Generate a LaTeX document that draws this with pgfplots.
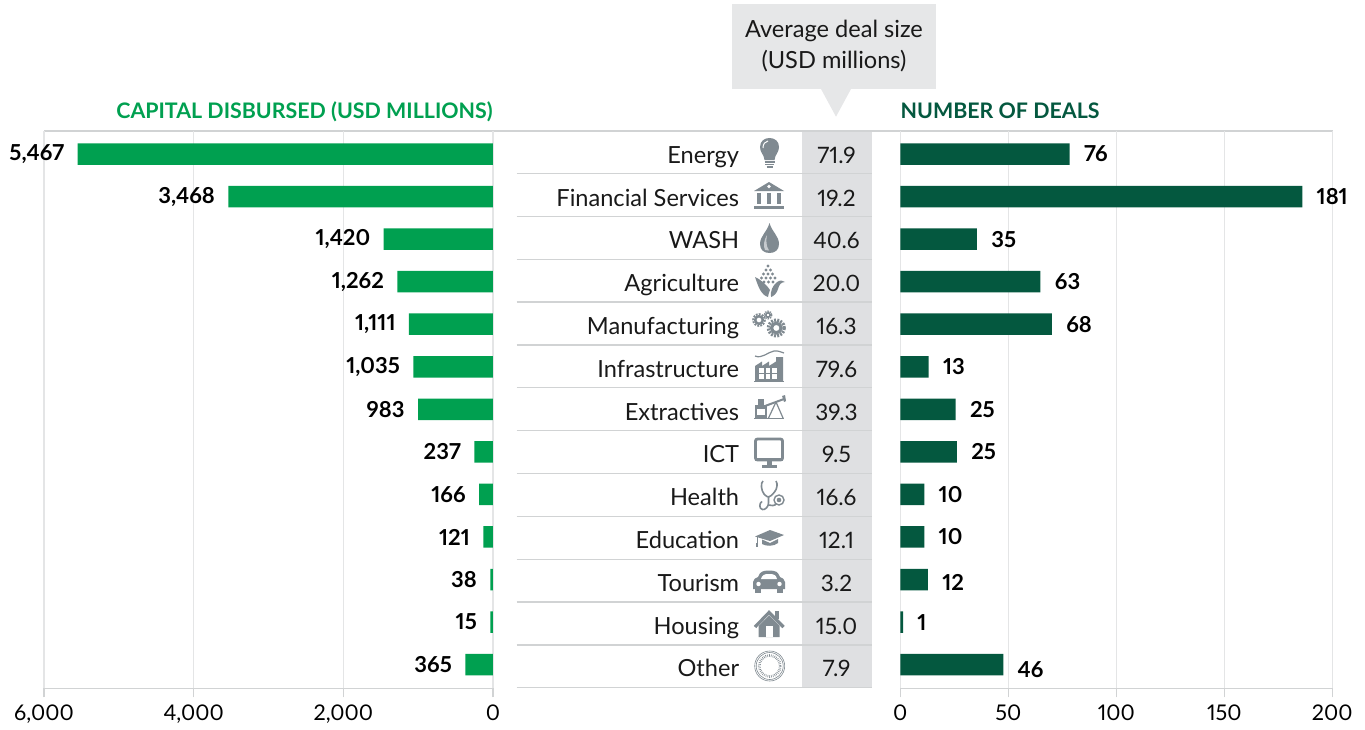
\documentclass[border=0pt]{standalone}
\usepackage{pgfplots}
\usepackage{pgfplotstable}
\pgfplotsset{compat=1.18}
\usepackage{fontspec}
\setmainfont{Lato}[Numbers=Proportional]

\definecolor{lgreen}{HTML}{00A050}
\definecolor{dgreen}{HTML}{04583F}
\definecolor{gridc}{HTML}{E4E5E6}
\definecolor{linec}{HTML}{D1D3D4}
\definecolor{colbg}{HTML}{DFE0E2}
\definecolor{callout}{HTML}{E6E7E8}
\definecolor{icon}{HTML}{808A91}

% 1 px of the reference = 0.5pt here
\newcommand{\fs}[1]{\fontsize{#1}{#1}\selectfont}

% bar lengths are as drawn in the reference (slightly past the printed values)
\pgfplotstableread{
y len lab
0 5551 {5,467}
1 3537 {3,468}
2 1462 {1,420}
3 1279 {1,262}
4 1123 {1,111}
5 1065 {1,035}
6 1002 983
7 250 237
8 187 166
9 130 121
10 36 38
11 36 15
12 370 365
}\capital
\pgfplotstableread{
y len lab
0 78.4 76
1 186.1 181
2 35.5 35
3 64.9 63
4 70.2 68
5 13.1 13
6 25.6 25
7 26.2 25
8 11.1 10
9 11.1 10
10 12.8 12
11 1.25 1
12 47.7 46
}\deals
% the table rows run on a slightly wider pitch than the bars
\pgfplotstableread{
y xn xv name avg
0 739.5 836.5 Energy 71.9
1.006 739.5 836.5 {Financial Services} 19.2
2.012 739.5 836.5 WASH 40.6
3.018 739.5 836.5 Agriculture 20.0
4.024 739.5 836.5 Manufacturing 16.3
5.029 739.5 836.5 Infrastructure 79.6
6.035 739.5 836.5 Extractives 39.3
7.041 739.5 836.5 ICT 9.5
8.047 739.5 836.5 Health 16.6
9.053 739.5 836.5 Education 12.1
10.059 739.5 836.5 Tourism 3.2
11.065 739.5 836.5 Housing 15.0
12.071 739.5 836.5 Other 7.9
}\sectors

\pgfplotsset{
  panel/.style={
    scale only axis, anchor=north west,
    height=278.8pt, ymin=-0.548, ymax=12.557, y dir=reverse,
    axis x line*=bottom, axis y line=none,
    axis line style={draw=linec,line width=0.8pt,-},
    xmajorgrids, grid style={draw=gridc,line width=0.7pt},
    tick style={draw=linec,line width=0.7pt},
    tick align=outside, major tick length=4.5pt,
    ytick=\empty, clip=false,
    xticklabel style={font=\fs{10.8}},
    /pgf/number format/assume math mode=true,
    /pgf/number format/1000 sep={,},
    scaled x ticks=false,
    xbar, bar shift=0pt, bar width=10.75pt,
    point meta=explicit symbolic,
    nodes near coords,
    nodes near coords style={font=\bfseries\fs{11},text=black,inner xsep=0pt,inner ysep=0pt},
    title style={font=\bfseries\fs{10.7}, yshift=0.2pt, inner sep=0pt},
  }
}

\begin{document}
\begin{tikzpicture}[x=0.5pt,y=-0.5pt]
\path (0,0) rectangle (1365,725);

% centre column, callout
\fill[colbg] (801.7,130.7) rectangle (871.7,688);
\fill[callout] (732,4) rectangle (936,89);
\fill[callout] (821,89) -- (851,89) -- (836,116.7) -- cycle;
\node[font=\fs{11.8},align=center,text=black!90,inner sep=0pt] at (834,46.5) {Average deal size\\[3.7pt](USD millions)};
\foreach \yy in {173.3,216.2,259.2,302,344.9,387.7,430.6,473.4,516.3,559.2,602,644.9,687.7}
  \draw[linec,line width=0.7pt] (516.5,\yy) -- (871.7,\yy);
\draw[linec,line width=0.9pt] (44,130.7) -- (1333,130.7);

% capital disbursed
\begin{axis}[panel, at={(22pt,-65.35pt)}, width=224.5pt,
  x dir=reverse, xmin=0, xmax=6000, xtick={0,2000,4000,6000},
  title={\textcolor{lgreen}{CAPITAL DISBURSED (USD MILLIONS)}},
  title style={at={(axis description cs:1,1)},anchor=base east},
  nodes near coords style={anchor=east,xshift=-6.5pt},
]
\addplot[fill=lgreen,draw=none] table[x=len,y=y,meta=lab] {\capital};
\end{axis}

% number of deals
\begin{axis}[panel, at={(450.15pt,-65.35pt)}, width=216pt,
  xmin=0, xmax=200, xtick={0,50,100,150,200},
  title={\textcolor{dgreen}{NUMBER OF DEALS}},
  title style={at={(axis description cs:0,1)},anchor=base west},
  nodes near coords style={anchor=west,xshift=7pt},
  coordinate style/.condition={\coordindex==12}{yshift=-2.5pt},
  coordinate style/.condition={\coordindex==10}{yshift=-1.5pt},
]
\addplot[fill=dgreen,draw=none] table[x=len,y=y,meta=lab] {\deals};
\end{axis}

% sector names and average deal size
\begin{axis}[at={(258.25pt,-65.35pt)}, anchor=north west, scale only axis,
  width=177.75pt, height=278.8pt, xmin=516.5, xmax=872,
  ymin=-0.548, ymax=12.557, y dir=reverse, hide axis, clip=false,
  point meta=explicit symbolic, nodes near coords,
]
\addplot[only marks,mark=none,nodes near coords style={anchor=base east,font=\fs{11.8},text=black!90,inner sep=0pt,yshift=-4.65pt}]
  table[x=xn,y=y,meta=name] {\sectors};
\addplot[only marks,mark=none,nodes near coords style={anchor=base,font=\fs{11.3},text=black!90,inner sep=0pt,yshift=-4.65pt}]
  table[x=xv,y=y,meta=avg] {\sectors};
\end{axis}

% sector icons
\begin{scope}[icon]
% bulb
\fill (764.5,160) .. controls (764,154) and (760,153) .. (760,147) .. controls (760,141) and (764.5,138) .. (769.5,138) .. controls (774.5,138) and (779,141) .. (779,147) .. controls (779,153) and (775,154) .. (774.5,160) -- cycle;
\draw[white,line width=0.5pt] (763,148) .. controls (763,144) and (765,141.5) .. (768,141);
\foreach \yy/\ww in {162/5,164.5/4.5,167/3} \draw[line width=0.8pt] (769.5-\ww,\yy) -- (769.5+\ww,\yy);
% bank
\fill (769,182) -- (784,191) -- (754,191) -- cycle;
\fill[white] (769,186.5) circle [radius=1.8];
\foreach \xx in {757,767,777} \fill (\xx,193) rectangle (\xx+4,204);
\fill (754,205.5) rectangle (784,209);
% drop
\fill (769.5,223) .. controls (767,232) and (760,236) .. (760,244) .. controls (760,250) and (764,253) .. (769.5,253) .. controls (775,253) and (779,250) .. (779,244) .. controls (779,236) and (772,232) .. (769.5,223) -- cycle;
\fill[white!55!icon] (765,250) .. controls (763,246) and (764,240) .. (767,235) .. controls (766,241) and (766,246) .. (769,250.5) -- cycle;
% corn
\foreach \xx/\yy in {768/266,766/270,770.5/270,763.5/274,768/274,772.5/274,761.5/278,766/278,770.5/278,775/278,764/282,768.5/282,773/282}
  \fill (\xx,\yy) circle [radius=1.6];
\fill (755,277) .. controls (760,279) and (767,285) .. (770,290) .. controls (769,293) and (768,295) .. (768,297) .. controls (761,295) and (758,286) .. (755,277) -- cycle;
\fill (771,297) .. controls (770,291) and (773,285) .. (777,282) .. controls (780,280) and (783,280) .. (785,282) .. controls (781,282) and (779,285) .. (778,289) .. controls (777,293) and (774,296) .. (771,297) -- cycle;
% gears
\draw[line width=1.2pt] (759,320) circle [radius=3.8];
\draw[line width=1pt,dash pattern=on 0.9pt off 0.6pt] (759,320) circle [radius=5.8];
\draw[line width=0.8pt] (768,315) circle [radius=2.2];
\draw[line width=0.7pt,dash pattern=on 0.7pt off 0.5pt] (768,315) circle [radius=3.8];
\draw[line width=1.6pt] (776.3,328) circle [radius=4.8];
\draw[line width=1.6pt,dash pattern=on 1pt off 0.6pt] (776.3,328) circle [radius=8];
% factory
\draw[line width=0.6pt] (755,356) .. controls (762,359) and (768,352) .. (774,351) .. controls (778,350.5) and (781,352) .. (784,353);
\fill (755,381) -- (755,366) -- (762,361.5) -- (762,366) -- (769,361.5) -- (769,366) -- (776,361.5) -- (776,357) -- (783,357) -- (783,381) -- cycle;
\foreach \xx in {759,765.5,772} \foreach \yy in {368,374} \fill[white] (\xx,\yy) rectangle (\xx+4.5,\yy+4.5);
\draw[line width=0.6pt] (754,381.5) -- (784,381.5);
% pumpjack
\draw[line width=1pt] (765,406) -- (784,399);
\fill (782,396) -- (785,395) -- (786,401) -- (784,402) -- cycle;
\draw[line width=0.6pt] (776,402) -- (768.5,418) (776,402) -- (783,418);
\fill (755,405) rectangle (767,418);
\fill[white] (757,409) rectangle (765,414.5);
\fill (758,399) rectangle (764,405);
\draw[line width=0.7pt] (754,418.3) -- (784,418.3);
% monitor
\draw[line width=1.4pt,rounded corners=1pt] (755.5,439) rectangle (782.5,460);
\fill (755,457.5) rectangle (783,461);
\fill (766.5,461) rectangle (772,465);
\fill (762,465) rectangle (777,467.5);
% stethoscope
\draw[line width=0.8pt] (763,481) .. controls (760.5,483) and (761,490) .. (764,494) .. controls (766,496) and (767,497) .. (768.5,497) .. controls (770,497) and (772,495) .. (774.5,492) .. controls (777,489) and (778,484) .. (776,481);
\draw[line width=0.8pt] (768.5,497) -- (768.5,503) .. controls (768.5,507) and (765,510) .. (762.5,509.5) .. controls (759,509) and (759,503) .. (762,501.5) (768.5,505) .. controls (771,506) and (775,506) .. (776.5,503.5);
\draw[line width=0.7pt] (779,500) circle [radius=5];
\fill (779,500) circle [radius=2.3];
% mortarboard
\fill (755,536.5) -- (770,530) -- (784,535) -- (770,541) -- cycle;
\fill (762,539.5) -- (770,543) -- (778,539) -- (778,543) .. controls (774,546.5) and (766,546.5) .. (762,544) -- cycle;
\draw[line width=0.5pt] (757,537) -- (757,545);
\fill (756.2,543) rectangle (758.4,546.5);
% car
\fill (753,589) -- (753,582) .. controls (753,579) and (756,578) .. (758,577) .. controls (760,572) and (762,570.5) .. (769,570.5) .. controls (776,570.5) and (778,572) .. (780,577) .. controls (782,578) and (785,579) .. (785,582) -- (785,589) -- cycle;
\fill[white] (761,579) .. controls (762,575) and (764,574) .. (769,574) .. controls (774,574) and (776,575) .. (777,579) -- cycle;
\fill (755,588) rectangle (761,593);
\fill (777,588) rectangle (783,593);
\fill[white] (758.5,584) circle [radius=2.2];
\fill[white] (779.5,584) circle [radius=2.2];
% house
\draw[line width=1.6pt,miter limit=10] (755,627) -- (769,612.5) -- (783.5,627);
\fill (774.5,611) rectangle (778.5,619);
\fill (758.5,626) -- (769,615.5) -- (779.5,626) -- (779.5,637) -- (758.5,637) -- cycle;
\fill[white] (766,626) rectangle (772.5,637);
% other
\draw[line width=0.3pt] (769.7,666) circle [radius=15];
\draw[line width=0.3pt] (769.7,666) circle [radius=13.5];
\draw[line width=1.3pt,dash pattern=on 0.3pt off 0.6pt] (769.7,666) circle [radius=10.5];
\end{scope}
\end{tikzpicture}
\end{document}
